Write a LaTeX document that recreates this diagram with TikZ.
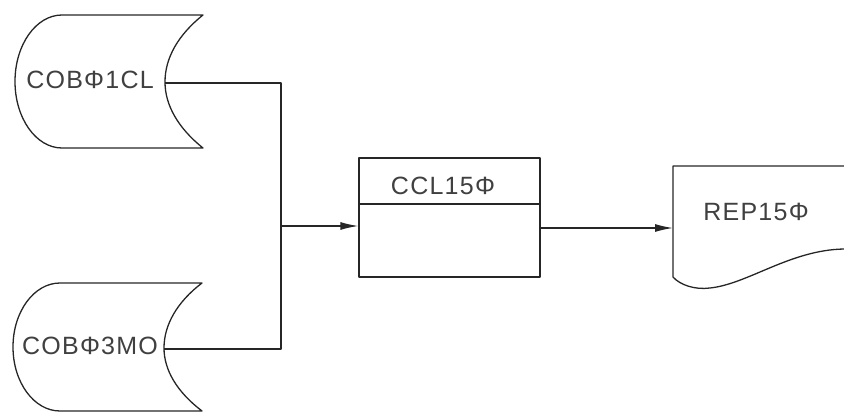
\documentclass[tikz,border=0pt]{standalone}
\usepackage{fontspec}
\newfontfamily\hand[LetterSpace=5]{Liberation Sans}
\usetikzlibrary{arrows.meta}
\begin{document}
\begin{tikzpicture}[x=1pt,y=1pt,
  ink/.style={draw=black!85,line width=1.3pt,line join=round},
  lbl/.style={inner sep=0pt,text=black!75,font=\hand\fontsize{25}{25}\selectfont},
  flow/.style={ink,-{Latex[length=18pt,width=8pt]}}]
\useasboundingbox (0,0) rectangle (844,-412);
% stored data 1
\draw[ink] (203,-15) -- (62,-15) arc[start angle=90,end angle=270,x radius=47,y radius=66.5] -- (203,-148)
  .. controls (178,-128) and (165,-105) .. (165,-82) .. controls (165,-58) and (178,-35) .. cycle;
\node[lbl] (t1) at (90,-80) {COBΦ1CL};
\coordinate (s1) at (165,-83);
% stored data 2
\draw[ink] (202,-283) -- (60,-283) arc[start angle=90,end angle=270,x radius=47,y radius=64] -- (202,-411)
  .. controls (177,-392) and (164,-370) .. (164,-348) .. controls (164,-325) and (177,-302) .. cycle;
\node[lbl] (t2) at (90,-346) {COBΦ3MO};
\coordinate (s2) at (164,-349);
% process box
\node[ink,rectangle,minimum width=181pt,minimum height=119pt,inner sep=0pt] (proc) at (449.5,-217.5) {};
\draw[ink] (proc.west |- 0,-204) -- (proc.east |- 0,-204);
\node[lbl] (t3) at (443,-186) {CCL15Φ};
% document
\draw[ink] (844,-166) -- (673,-166) -- (673,-277)
  .. controls (680,-285) and (695,-290) .. (710,-288)
  .. controls (748,-284) and (790,-250) .. (844,-249);
\node[lbl] (t4) at (756,-212) {REP15Φ};
\coordinate (doc) at (673,-228);
% connectors
\coordinate (j) at (281,-226);
\draw[ink] (s1) -- (281,-83) -- (j);
\draw[ink] (s2) -- (281,-349) -- (j);
\draw[flow] (j) -- (proc.west |- j);
\draw[flow] (proc.east |- 0,-228) -- (doc);
\end{tikzpicture}
\end{document}
